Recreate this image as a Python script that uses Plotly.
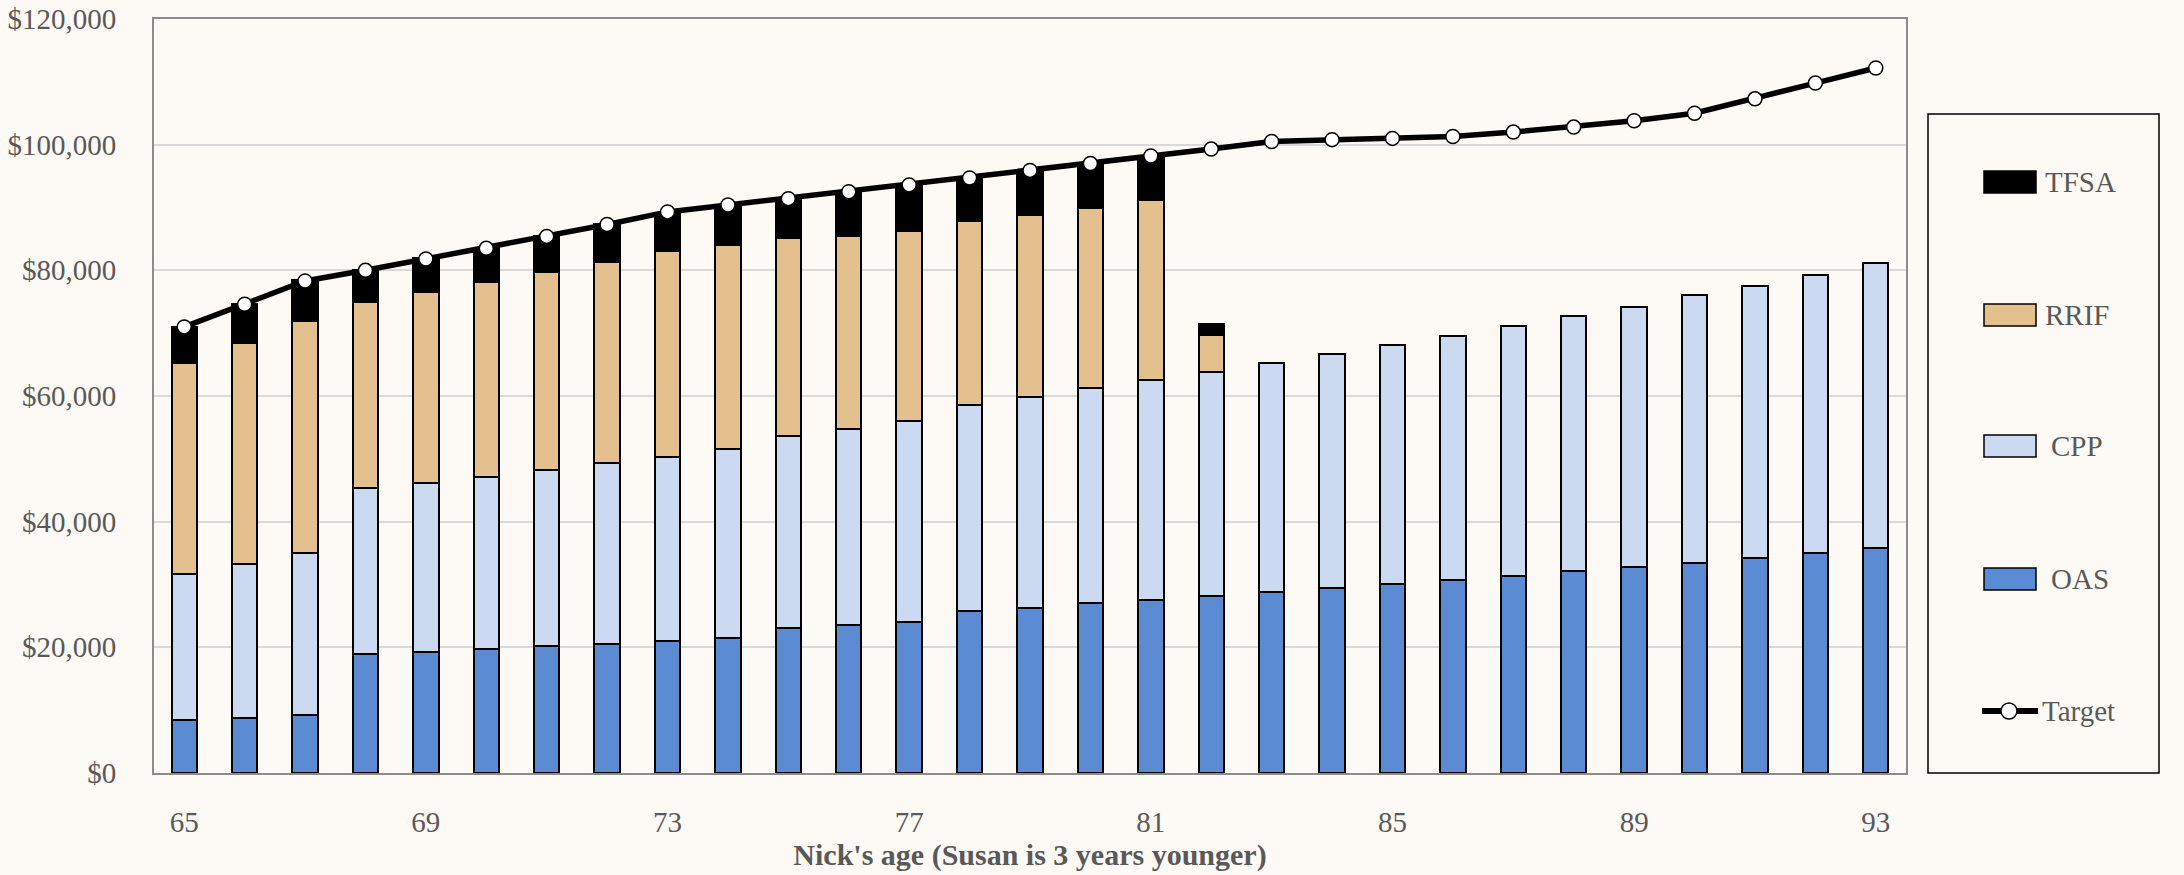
import plotly.graph_objects as go

# Nick's age for each year of retirement
ages = [str(a) for a in range(65, 94)]

# Annual income by source (dollars); None where a source is exhausted
oas = [8400, 8800, 9300, 18900, 19300, 19700, 20200, 20600, 21000, 21500,
       23100, 23600, 24100, 25800, 26300, 27000, 27500, 28200, 28800, 29500,
       30100, 30700, 31400, 32100, 32800, 33500, 34200, 35000, 35800]
cpp = [23300, 24500, 25700, 26400, 26900, 27400, 28100, 28800, 29300, 30000,
       30500, 31200, 31900, 32700, 33500, 34200, 35000, 35600, 36500, 37200,
       38000, 38800, 39700, 40600, 41400, 42500, 43300, 44200, 45300]
rrif = [33500, 35200, 37000, 29600, 30400, 31000, 31500, 31900, 32700, 32500,
        31600, 30600, 30300, 29300, 29000, 28800, 28700, 5900, None, None,
        None, None, None, None, None, None, None, None, None]
tfsa = [5800, 6100, 6400, 5200, 5300, 5400, 5600, 6000, 6200, 6300,
        6200, 7100, 7200, 7100, 7100, 7100, 7000, 1700, None, None,
        None, None, None, None, None, None, None, None, None]
target = [71000, 74600, 78300, 80000, 81800, 83500, 85400, 87300, 89300, 90400,
          91400, 92500, 93600, 94700, 95900, 97000, 98200, 99300, 100500, 100800,
          101000, 101300, 102000, 102800, 103800, 105000, 107300, 109800, 112200]

tick_ages = ["65", "69", "73", "77", "81", "85", "89", "93"]
y_ticks = [0, 20000, 40000, 60000, 80000, 100000, 120000]

BG = "#FDFAF5"
TEXT = "#595959"
FONT = "Liberation Serif"

W, H = 2184, 875
ML, MR, MT, MB = 154, 278, 19, 102
PW, PH = W - ML - MR, H - MT - MB


def px_x(px):
    # page pixel column -> paper x
    return (px - ML) / PW


def px_y(py):
    # page pixel row -> paper y
    return (H - MB - py) / PH


fig = go.Figure()

bar_series = [
    ("OAS", oas, "#5B8BD2"),
    ("CPP", cpp, "#CCDAF1"),
    ("RRIF", rrif, "#E4C08F"),
    ("TFSA", tfsa, "#000000"),
]
for name, vals, color in bar_series:
    fig.add_trace(go.Bar(
        x=ages, y=vals, name=name,
        marker=dict(color=color, line=dict(color="#000000", width=2)),
        width=0.42, showlegend=False,
    ))

fig.add_trace(go.Scatter(
    x=ages, y=target, name="Target", mode="lines+markers",
    line=dict(color="#000000", width=5.5),
    marker=dict(size=14, color="#FFFFFF", line=dict(color="#000000", width=1.5)),
    showlegend=False,
))

# Legend panel drawn as a framed box with swatches
shapes = [dict(type="rect", xref="paper", yref="paper",
               x0=px_x(1928), x1=px_x(2159), y0=px_y(773), y1=px_y(114),
               line=dict(color="#000000", width=1.5), fillcolor=BG, layer="below")]
annotations = []
legend_rows = [
    ("TFSA", "#000000", 182, 2043),
    ("RRIF", "#E4C08F", 315, 2043),
    ("CPP", "#CCDAF1", 446, 2049),
    ("OAS", "#5B8BD2", 579, 2049),
]
for label, color, yc, tx in legend_rows:
    shapes.append(dict(type="rect", xref="paper", yref="paper",
                       x0=px_x(1984), x1=px_x(2036), y0=px_y(yc + 11), y1=px_y(yc - 11),
                       line=dict(color="#000000", width=1.5), fillcolor=color))
    annotations.append(dict(text=label, xref="paper", yref="paper",
                            x=px_x(tx), y=px_y(yc), xanchor="left", yanchor="middle",
                            showarrow=False, font=dict(family=FONT, size=29, color=TEXT)))

yt = 711
shapes.append(dict(type="line", xref="paper", yref="paper",
                   x0=px_x(1982), x1=px_x(2038), y0=px_y(yt), y1=px_y(yt),
                   line=dict(color="#000000", width=6)))
shapes.append(dict(type="circle", xref="paper", yref="paper",
                   x0=px_x(2001), x1=px_x(2017), y0=px_y(yt + 8), y1=px_y(yt - 8),
                   line=dict(color="#000000", width=1.5), fillcolor="#FFFFFF"))
annotations.append(dict(text="Target", xref="paper", yref="paper",
                        x=px_x(2040), y=px_y(yt), xanchor="left", yanchor="middle",
                        showarrow=False, font=dict(family=FONT, size=29, color=TEXT)))

fig.update_layout(
    width=W, height=H,
    margin=dict(l=ML, r=MR, t=MT, b=MB),
    paper_bgcolor=BG, plot_bgcolor=BG,
    barmode="stack",
    font=dict(family=FONT, size=28, color=TEXT),
    showlegend=False,
    shapes=shapes,
    annotations=annotations,
    xaxis=dict(
        type="category", tickmode="array", tickvals=tick_ages, ticktext=tick_ages,
        showgrid=False, showline=True, linecolor="#8C8C8C", linewidth=2, mirror=True,
        ticks="", ticklabelstandoff=22, tickfont=dict(family=FONT, size=29, color=TEXT),
        title=dict(text="<b>Nick's age (Susan is 3 years younger)</b>",
                   font=dict(family=FONT, size=30, color=TEXT), standoff=6),
        range=[-0.5, 28.5], automargin=False,
    ),
    yaxis=dict(
        range=[0, 120000], tickvals=y_ticks, tickformat="$,.0f",
        showgrid=True, gridcolor="#D9D9D9", gridwidth=1.5,
        showline=True, linecolor="#8C8C8C", linewidth=2, mirror=True,
        zeroline=False, ticks="", ticklabelstandoff=30,
        tickfont=dict(family=FONT, size=29, color=TEXT),
        automargin=False,
    ),
)

fig.write_html("out.html")
